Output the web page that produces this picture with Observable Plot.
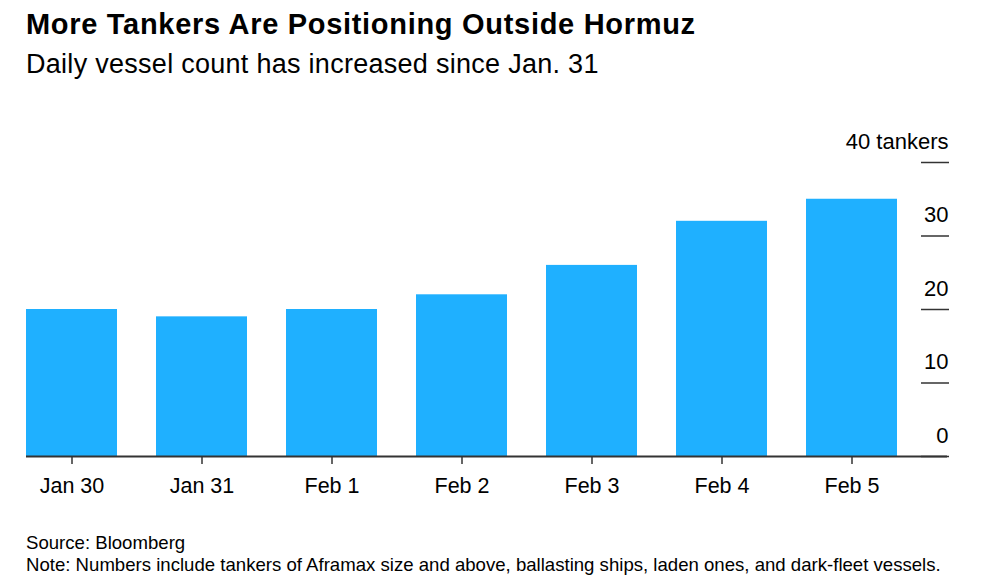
<!DOCTYPE html>
<html><head><meta charset="utf-8">
<script src="https://cdn.jsdelivr.net/npm/d3@7"></script>
<script src="https://cdn.jsdelivr.net/npm/@observablehq/plot@0.6"></script>
<style>
body{margin:0;background:#fff;font-family:"Liberation Sans",Arial,sans-serif;}
#wrap{position:relative;width:1000px;height:587px;overflow:hidden;background:#fff}
.t{position:absolute;left:26px;white-space:nowrap;line-height:1;color:#000}
#title{top:10px;font-size:29px;font-weight:bold;letter-spacing:0.7px}
#sub{top:51px;font-size:27px;letter-spacing:0.28px}
#chart{position:absolute;left:0;top:100px}
#src{top:534px;font-size:18.6px}
#note{top:556px;font-size:18.6px}
</style></head>
<body>
<div id="wrap">
<div class="t" id="title">More Tankers Are Positioning Outside Hormuz</div>
<div class="t" id="sub">Daily vessel count has increased since Jan. 31</div>
<div id="chart"></div>
<div class="t" id="src">Source: Bloomberg</div>
<div class="t" id="note">Note: Numbers include tankers of Aframax size and above, ballasting ships, laden ones, and dark-fleet vessels.</div>
</div>
<script>
const dates = ["Jan 30","Jan 31","Feb 1","Feb 2","Feb 3","Feb 4","Feb 5"];
const counts = [20, 19, 20, 22, 26, 32, 35];
const yTicks = [0, 10, 20, 30, 40];
const yUnit = "tankers";

const data = dates.map((d, i) => ({date: d, count: counts[i]}));

const chart = Plot.plot({
  width: 1000,
  height: 420,
  marginTop: 62,
  marginBottom: 64,
  marginLeft: 26,
  marginRight: 103,
  style: {fontFamily: '"Liberation Sans", Arial, sans-serif', fontSize: "22px", color: "#000", background: "transparent"},
  x: {domain: dates, paddingInner: 0.3, paddingOuter: 0, label: null},
  y: {domain: [0, 40], label: null},
  marks: [
    Plot.barY(data, {x: "date", y: "count", fill: "#1fb0ff"}),
    Plot.ruleY([0], {stroke: "#333", strokeWidth: 2, insetRight: -50}),
    Plot.axisX({tickSize: 8, tickPadding: 13, stroke: "#333", strokeWidth: 1.5, fontSize: 21.5, label: null}),
    Plot.axisY({anchor: "right", ticks: yTicks, tickSize: 28, dx: 23, tickFormat: () => "", stroke: "#333", strokeWidth: 1.5, label: null}),
    Plot.axisY({anchor: "right", ticks: yTicks, tickSize: 0, tickPadding: 0, dx: 51, dy: -21, textAnchor: "end",
      tickFormat: d => d === 40 ? `40 ${yUnit}` : String(d), label: null})
  ]
});
document.getElementById("chart").appendChild(chart);
</script>
</body></html>
